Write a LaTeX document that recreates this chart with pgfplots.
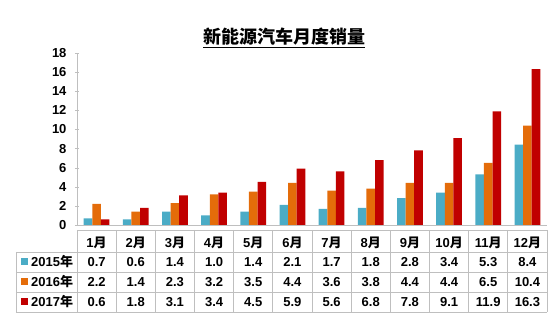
\documentclass[border=0pt]{standalone}
\usepackage{pgfplots}
\usepackage{pgfplotstable}
\pgfplotsset{compat=1.18}
\usepackage{fontspec}
\setmainfont{Liberation Sans}
\newfontfamily\cjk{Noto Sans CJK SC}
\definecolor{cteal}{HTML}{4BACC6}
\definecolor{corange}{HTML}{E46C0A}
\definecolor{cred}{HTML}{C00000}
\definecolor{cgrid}{HTML}{BFBFBF}
\pgfplotstableread{
x a b c
0 0.7 2.2 0.6
1 0.6 1.4 1.8
2 1.4 2.3 3.1
3 1.0 3.2 3.4
4 1.4 3.5 4.5
5 2.1 4.4 5.9
6 1.7 3.6 5.6
7 1.8 3.8 6.8
8 2.8 4.4 7.8
9 3.4 4.4 9.1
10 5.3 6.5 11.9
11 8.4 10.4 16.3
}\data
\begin{document}
\begin{tikzpicture}
\useasboundingbox (-77pt,-95pt) rectangle (476pt,225pt);
\begin{axis}[
  at={(0,0)}, anchor=south west,
  width=470pt, height=172pt, scale only axis,
  xmin=-0.5, xmax=11.5, ymin=0, ymax=18,
  ytick={0,2,...,18},
  xtick={0,...,11},
  xticklabels={1{\cjk 月},2{\cjk 月},3{\cjk 月},4{\cjk 月},5{\cjk 月},6{\cjk 月},7{\cjk 月},8{\cjk 月},9{\cjk 月},10{\cjk 月},11{\cjk 月},12{\cjk 月}},
  x tick label style={anchor=center, yshift=-16pt},
  major x tick style={draw=none},
  y tick style={cgrid},
  tick align=inside,
  major tick length=4pt,
  axis x line=bottom, axis y line=left,
  axis line style={-, cgrid},
  /pgf/number format/assume math mode=true,
  ticklabel style={font=\fontsize{13}{15}\selectfont\bfseries},
  y tick label style={xshift=-5pt},
  clip=false,
  nodes near coords={\pgfmathprintnumber[fixed,fixed zerofill,precision=1]{\pgfplotspointmeta}},
  every node near coord/.append style={anchor=center, font=\fontsize{13}{15}\selectfont\bfseries, text=black},
]
\addplot[ybar, bar width=8.6pt, bar shift=-8.6pt, fill=cteal, draw=none, nodes near coords={}] table[x=x, y=a] {\data};
\addplot[ybar, bar width=8.6pt, bar shift=0pt, fill=corange, draw=none, nodes near coords={}] table[x=x, y=b] {\data};
\addplot[ybar, bar width=8.6pt, bar shift=8.6pt, fill=cred, draw=none, nodes near coords={}] table[x=x, y=c] {\data};
\addplot[only marks, mark=none, point meta=explicit] table[x=x, y expr=-3.87, meta=a] {\data};
\addplot[only marks, mark=none, point meta=explicit] table[x=x, y expr=-5.96, meta=b] {\data};
\addplot[only marks, mark=none, point meta=explicit] table[x=x, y expr=-8.06, meta=c] {\data};
\end{axis}
% table grid
\draw[cgrid, line width=0.8pt] (0pt,-5pt) -- (470pt,-5pt);
\foreach \yy in {-27,-47,-67,-87} \draw[cgrid, line width=0.8pt] (-61pt,\yy pt) -- (470pt,\yy pt);
\draw[cgrid, line width=0.8pt] (-61pt,-27pt) -- (-61pt,-87pt);
\foreach \k in {0,...,12} \draw[cgrid, line width=0.8pt] (\k*39.1667pt,-5pt) -- (\k*39.1667pt,-87pt);
% legend keys
\fill[cteal] (-56pt,-40.5pt) rectangle (-49pt,-33.5pt);
\fill[corange] (-56pt,-60.5pt) rectangle (-49pt,-53.5pt);
\fill[cred] (-56pt,-80.5pt) rectangle (-49pt,-73.5pt);
\begin{scope}[every node/.style={anchor=west, inner sep=0pt, font=\fontsize{13}{15}\selectfont\bfseries}]
\node at (-46pt,-37pt) {2015{\cjk 年}};
\node at (-46pt,-57pt) {2016{\cjk 年}};
\node at (-46pt,-77pt) {2017{\cjk 年}};
\end{scope}
% title
\node[font=\fontsize{18}{20}\selectfont\bfseries\cjk, inner sep=0pt] at (207pt,187pt) {\underline{新能源汽车月度销量}};
\end{tikzpicture}
\end{document}
